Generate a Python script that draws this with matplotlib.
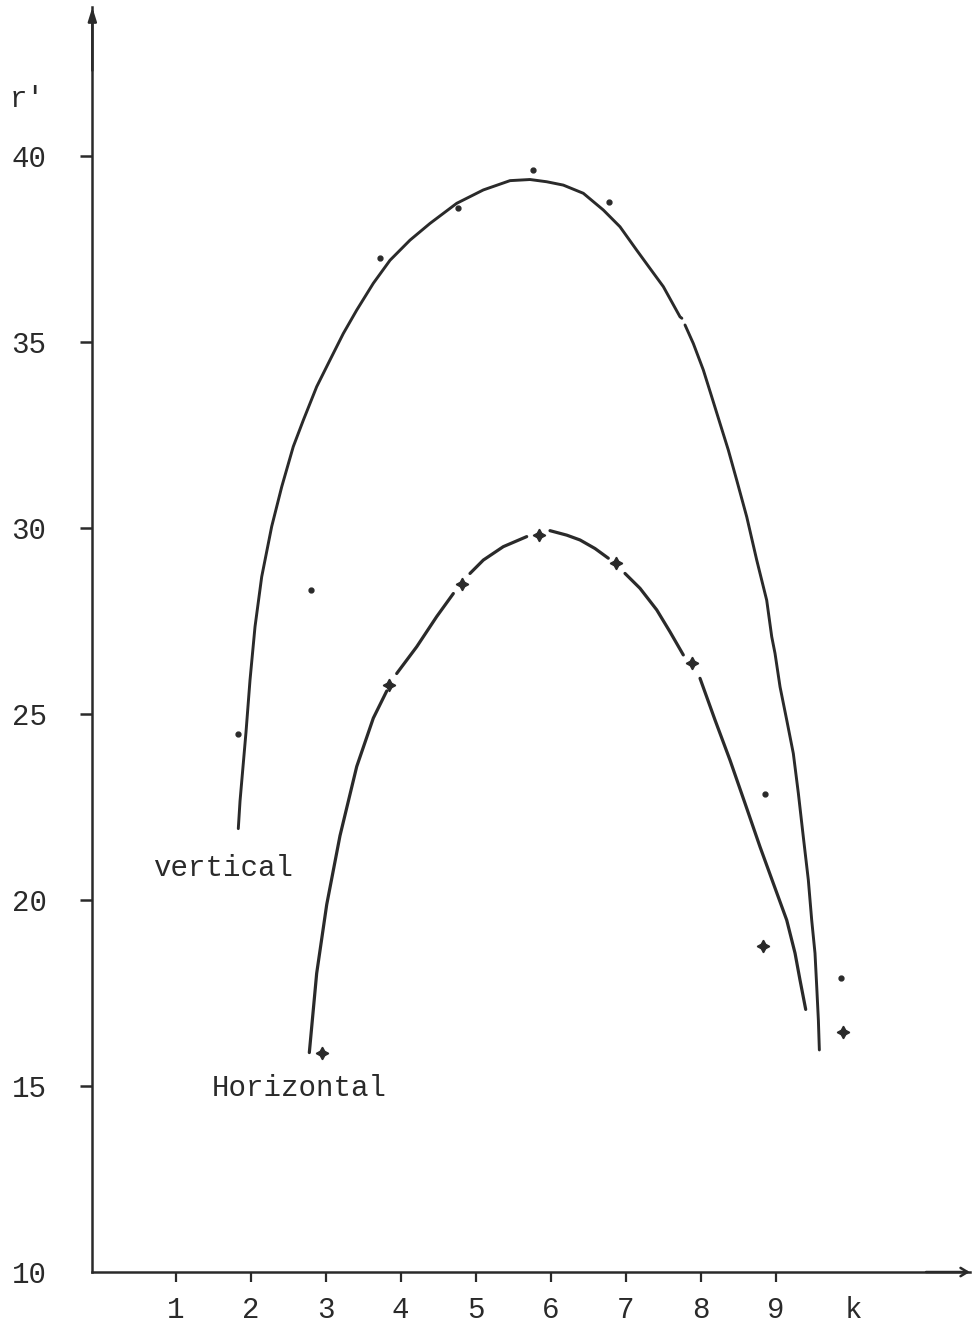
import numpy as np
import matplotlib
matplotlib.use("Agg")
import matplotlib.pyplot as plt

plt.rcParams['font.family'] = ['Liberation Mono', 'DejaVu Sans Mono']

# ---- data ----
# measured points, "vertical" series (dots)
vert_k = [1.83, 2.81, 3.73, 4.76, 5.77, 6.78, 8.86, 9.87]
vert_r = [24.46, 28.33, 37.25, 38.61, 39.62, 38.76, 22.84, 17.90]

# measured points, "Horizontal" series (crosses)
horz_k = [2.95, 3.85, 4.82, 5.85, 6.87, 7.88, 8.83, 9.90]
horz_r = [15.90, 25.78, 28.49, 29.81, 29.05, 26.36, 18.76, 16.46]

# hand-drawn fitted curve, "vertical" (nan = break in the drawn line)
vcurve_k = [1.836, 1.859, 1.939, 1.992, 2.059, 2.148, 2.281, 2.415, 2.569,
            2.703, 2.881, 3.059, 3.236, 3.415, 3.636, 3.859, 4.125, 4.392,
            4.748, 5.103, 5.459, 5.725, 5.948, 6.169, 6.436, 6.703, 6.925,
            7.148, 7.325, 7.503, 7.725, 7.750, np.nan,
            7.792, 7.903, 8.036, 8.148, 8.259, 8.369, 8.481, 8.615, 8.748,
            8.881, 8.948, 8.992, 9.059, 9.148, 9.236, 9.303, 9.369, 9.436,
            9.481, 9.525, 9.548, 9.570, 9.583]
vcurve_r = [21.92, 22.66, 24.52, 25.91, 27.35, 28.69, 30.04, 31.11, 32.19,
            32.90, 33.80, 34.52, 35.23, 35.86, 36.58, 37.20, 37.74, 38.19,
            38.73, 39.09, 39.34, 39.37, 39.31, 39.22, 39.00, 38.55, 38.10,
            37.47, 36.98, 36.49, 35.68, 35.64, np.nan,
            35.46, 34.96, 34.25, 33.53, 32.81, 32.10, 31.29, 30.30, 29.14,
            28.06, 27.08, 26.63, 25.73, 24.84, 23.94, 22.87, 21.70, 20.54,
            19.46, 18.57, 17.67, 16.77, 15.97]

# hand-drawn fitted curve, "Horizontal" (broken at each cross)
hcurve_k = [2.783, 2.881, 3.015, 3.192, 3.415, 3.636, 3.815, np.nan,
            3.948, 4.215, 4.481, 4.703, np.nan,
            4.925, 5.103, 5.369, 5.681, np.nan,
            5.992, 6.215, 6.392, 6.592, 6.769, np.nan,
            6.992, 7.192, 7.415, 7.592, 7.769, np.nan,
            7.992, 8.192, 8.392, 8.592, 8.792, 8.969, 9.148, 9.259, 9.325, 9.401]
hcurve_r = [15.90, 18.03, 19.88, 21.73, 23.59, 24.89, 25.62, np.nan,
            26.09, 26.81, 27.62, 28.24, np.nan,
            28.78, 29.14, 29.50, 29.77, np.nan,
            29.93, 29.81, 29.68, 29.45, 29.19, np.nan,
            28.78, 28.38, 27.80, 27.21, 26.59, np.nan,
            25.96, 24.84, 23.76, 22.60, 21.43, 20.45, 19.46, 18.57, 17.85, 17.06]

x_ticks = [1, 2, 3, 4, 5, 6, 7, 8, 9]
y_ticks = [10, 15, 20, 25, 30, 35, 40]

INK = '#2a2a2a'
FS = 21

fig = plt.figure(figsize=(9.73, 13.26), dpi=100)
ax = fig.add_axes([0.0949, 0.0407, 0.9019, 0.9538])
ax.set_xlim(-0.11, 11.59)
ax.set_ylim(10, 44.0)

ax.plot(vcurve_k, vcurve_r, color=INK, lw=2.1, solid_capstyle='round',
        solid_joinstyle='round')
ax.plot(hcurve_k, hcurve_r, color=INK, lw=2.3, solid_capstyle='round',
        solid_joinstyle='round')
ax.plot(vert_k, vert_r, ls='none', marker='o', ms=3.5, color=INK)
ax.plot(horz_k, horz_r, ls='none', marker=(4, 1, 0), ms=9, color=INK)

for s in ['top', 'right']:
    ax.spines[s].set_visible(False)
for s in ['left', 'bottom']:
    ax.spines[s].set_linewidth(1.8)
    ax.spines[s].set_color(INK)

ax.set_xticks(x_ticks)
ax.set_xticklabels([str(v) for v in x_ticks])
ax.set_yticks(y_ticks)
ax.set_yticklabels([str(v) for v in y_ticks])
ax.tick_params(axis='x', direction='out', length=7, width=1.6, color=INK,
               labelsize=FS, pad=10, labelcolor=INK)
ax.tick_params(axis='y', direction='out', length=9, width=1.8, color=INK,
               labelsize=FS, pad=24, labelcolor=INK)
ax.yaxis.get_major_ticks()[0].tick1line.set_visible(False)

# axis arrow heads
ax.annotate('', xy=(0, 1.0), xytext=(0, 0.95), xycoords='axes fraction',
            arrowprops=dict(arrowstyle='-|>,head_length=0.8,head_width=0.25',
                            color=INK, lw=1.8, shrinkA=0, shrinkB=0))
ax.annotate('', xy=(1.0, 0), xytext=(0.95, 0), xycoords='axes fraction',
            arrowprops=dict(arrowstyle='->,head_length=0.5,head_width=0.3',
                            color=INK, lw=1.8, shrinkA=0, shrinkB=0))

# axis names and series labels
ax.text(10.03, -0.019, 'k', transform=ax.get_xaxis_transform(),
        ha='center', va='top', fontsize=FS, color=INK)
fig.text(10 / 973, 1 - 107 / 1326, "r'", ha='left', va='baseline',
         fontsize=FS, color=INK)
ax.text(0.70, 20.86, 'vertical', ha='left', va='center', fontsize=FS, color=INK)
ax.text(1.485, 14.95, 'Horizontal', ha='left', va='center', fontsize=FS, color=INK)

fig.savefig('out.png', dpi=100, facecolor='white')
